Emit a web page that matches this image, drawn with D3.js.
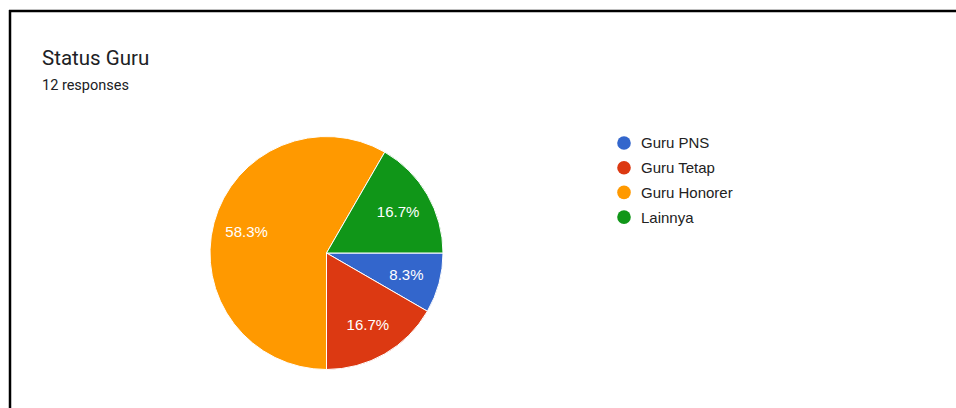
<!DOCTYPE html>
<html>
<head>
<meta charset="utf-8">
<script src="https://cdn.jsdelivr.net/npm/d3@7"></script>
<style>
  body { margin: 0; background: #fff; }
  svg { display: block; }
</style>
</head>
<body>
<svg id="chart"></svg>
<script>
// data
const categories = ["Guru PNS", "Guru Tetap", "Guru Honorer", "Lainnya"];
const counts = [1, 2, 7, 2];
const colors = ["#3366cc", "#dc3912", "#ff9900", "#109618"];
const title = "Status Guru";
const subtitle = "12 responses";

const width = 956, height = 408;
const svg = d3.select("#chart")
  .attr("width", width)
  .attr("height", height);

// frame (top + left lines only)
svg.append("line")
  .attr("x1", 9).attr("x2", width)
  .attr("y1", 11).attr("y2", 11)
  .attr("stroke", "#000").attr("stroke-width", 2.5);
svg.append("line")
  .attr("x1", 10).attr("x2", 10)
  .attr("y1", 10).attr("y2", height)
  .attr("stroke", "#000").attr("stroke-width", 2.5);

svg.append("text")
  .attr("x", 42).attr("y", 65)
  .attr("font-family", "Roboto, sans-serif")
  .attr("font-size", 20.5)
  .attr("fill", "#202124")
  .text(title);

svg.append("text")
  .attr("x", 42).attr("y", 90)
  .attr("font-family", "Roboto, sans-serif")
  .attr("font-size", 14.5)
  .attr("fill", "#202124")
  .text(subtitle);

const data = categories.map((c, i) => ({ name: c, value: counts[i], color: colors[i] }));
const total = d3.sum(counts);

const cx = 326.5, cy = 253, r = 116.5;

const pie = d3.pie()
  .value(d => d.value)
  .sort(null)
  .startAngle(Math.PI / 2)
  .endAngle(Math.PI / 2 + 2 * Math.PI);

const arc = d3.arc().innerRadius(0).outerRadius(r);
const labelArc = d3.arc().innerRadius(r * 0.71).outerRadius(r * 0.71);

const g = svg.append("g").attr("transform", `translate(${cx},${cy})`);

const slices = g.selectAll("g.slice")
  .data(pie(data))
  .enter()
  .append("g")
  .attr("class", "slice");

slices.append("path")
  .attr("d", arc)
  .attr("fill", d => d.data.color)
  .attr("stroke", "#fff")
  .attr("stroke-width", 1);

slices.append("text")
  .attr("transform", d => `translate(${labelArc.centroid(d)})`)
  .attr("text-anchor", "middle")
  .attr("dy", "0.36em")
  .attr("font-family", "Arial, 'Liberation Sans', sans-serif")
  .attr("font-size", 15)
  .attr("fill", "#fff")
  .text(d => (d.data.value / total * 100).toFixed(1) + "%");

// legend
const legend = svg.append("g").attr("transform", "translate(624,143)");
const items = legend.selectAll("g")
  .data(data)
  .enter()
  .append("g")
  .attr("transform", (d, i) => `translate(0, ${i * 24.7})`);

items.append("circle")
  .attr("r", 6.8)
  .attr("fill", d => d.color);

items.append("text")
  .attr("x", 17)
  .attr("dy", "0.36em")
  .attr("font-family", "Arial, 'Liberation Sans', sans-serif")
  .attr("font-size", 15)
  .attr("fill", "#222")
  .text(d => d.name);
</script>
</body>
</html>
